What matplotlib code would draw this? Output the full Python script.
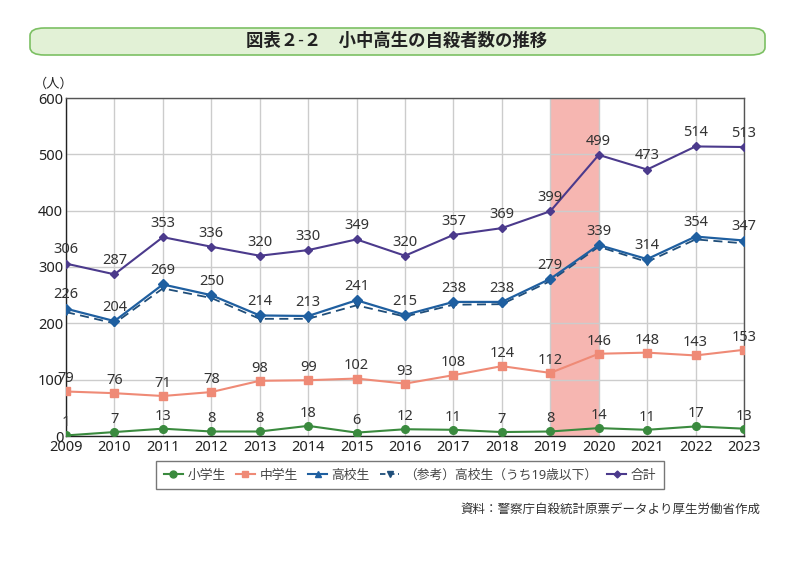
import matplotlib
matplotlib.use("Agg")
import matplotlib.pyplot as plt
from matplotlib.patches import FancyBboxPatch
from matplotlib.lines import Line2D

plt.rcParams['font.family'] = ['Noto Sans', 'Noto Sans CJK JP', 'DejaVu Sans']

years = list(range(2009, 2024))
elementary = [1, 7, 13, 8, 8, 18, 6, 12, 11, 7, 8, 14, 11, 17, 13]
junior = [79, 76, 71, 78, 98, 99, 102, 93, 108, 124, 112, 146, 148, 143, 153]
high = [226, 204, 269, 250, 214, 213, 241, 215, 238, 238, 279, 339, 314, 354, 347]
high_u19 = [220, 200, 262, 245, 208, 208, 232, 212, 233, 234, 275, 336, 309, 349, 342]
total = [306, 287, 353, 336, 320, 330, 349, 320, 357, 369, 399, 499, 473, 514, 513]
yticks = [0, 100, 200, 300, 400, 500, 600]
labels = ['小学生', '中学生', '高校生', '（参考）高校生（うち19歳以下）', '合計']

fig = plt.figure(figsize=(8, 5.81), dpi=100)
ax = fig.add_axes([66/800, 1-436/581, (744-66)/800, (436-98)/581])

ax.axvspan(2019, 2020, color='#f5aaa4', alpha=0.85, zorder=0, lw=0)

c_el = '#3a8a3e'
c_jr = '#ef8a76'
c_hi = '#1f5fa0'
c_hd = '#1f4e7a'
c_to = '#4b3a8c'

ax.plot(years, elementary, color=c_el, marker='o', ms=5.5, lw=1.5, zorder=3)
ax.plot(years, junior, color=c_jr, marker='s', ms=5.5, lw=1.5, zorder=3)
ax.plot(years, high, color=c_hi, marker='D', ms=5, lw=1.6, zorder=4)
ax.plot(years, high_u19, color=c_hd, marker='v', ms=5, lw=1.3, ls=(0, (5, 3)), zorder=3)
ax.plot(years, total, color=c_to, marker='D', ms=4, lw=1.5, zorder=3)

fs = 10.5
for series, off in ((elementary, 9), (junior, 9), (high, 11), (total, 11)):
    for x, v in zip(years, series):
        ax.text(x, v + off, str(v), ha='center', va='bottom', fontsize=fs, color='#333333')

ax.set_xlim(2009, 2023)
ax.set_ylim(0, 600)
ax.set_xticks(years)
ax.set_yticks(yticks)
ax.tick_params(axis='both', length=0, labelsize=10.5, colors='#222222')
ax.tick_params(axis='x', pad=3)
ax.tick_params(axis='y', pad=2)
ax.grid(True, color='#cccccc', lw=1)
ax.set_axisbelow(True)
for s in ax.spines.values():
    s.set_color('#555555')
    s.set_linewidth(1)
ax.spines['left'].set_color('#222222')
ax.spines['bottom'].set_color('#222222')

fig.text(34/800, 1-84/581, '（人）', fontsize=9.5, ha='left', va='center', color='#222222')

# title box
box = FancyBboxPatch((30/800, 1-55/581), (765-30)/800, 27/581,
                     boxstyle='round,pad=0,rounding_size=0.018',
                     transform=fig.transFigure, facecolor='#e2f1d6',
                     edgecolor='#7cc063', lw=1.2, mutation_aspect=581/800*1.0)
fig.patches.append(box)
fig.text(397/800, 1-41/581, '図表２-２　小中高生の自殺者数の推移', ha='center', va='center',
         fontsize=12.5, fontweight='bold', color='#222222')

handles = [
    Line2D([], [], color=c_el, marker='o', ms=5, lw=1.5),
    Line2D([], [], color=c_jr, marker='s', ms=5, lw=1.5),
    Line2D([], [], color=c_hi, marker='^', ms=5, lw=1.5),
    Line2D([], [], color=c_hd, marker='v', ms=5, lw=1.3, ls=(0, (3, 2))),
    Line2D([], [], color=c_to, marker='D', ms=3.5, lw=1.5),
]
leg = fig.legend(handles, labels, loc='center', bbox_to_anchor=(410/800, 1-475/581),
                 ncol=5, frameon=True, fancybox=False, fontsize=9.2, handlelength=1.5,
                 columnspacing=0.8, handletextpad=0.35, borderpad=0.6)
leg.get_frame().set_edgecolor('#555555')
leg.get_frame().set_linewidth(1)
for t in leg.get_texts():
    t.set_color('#444444')

fig.text(760/800, 1-509/581, '資料：警察庁自殺統計原票データより厚生労働省作成', ha='right', va='center',
         fontsize=9, color='#333333')

fig.savefig('out.png', dpi=100)
